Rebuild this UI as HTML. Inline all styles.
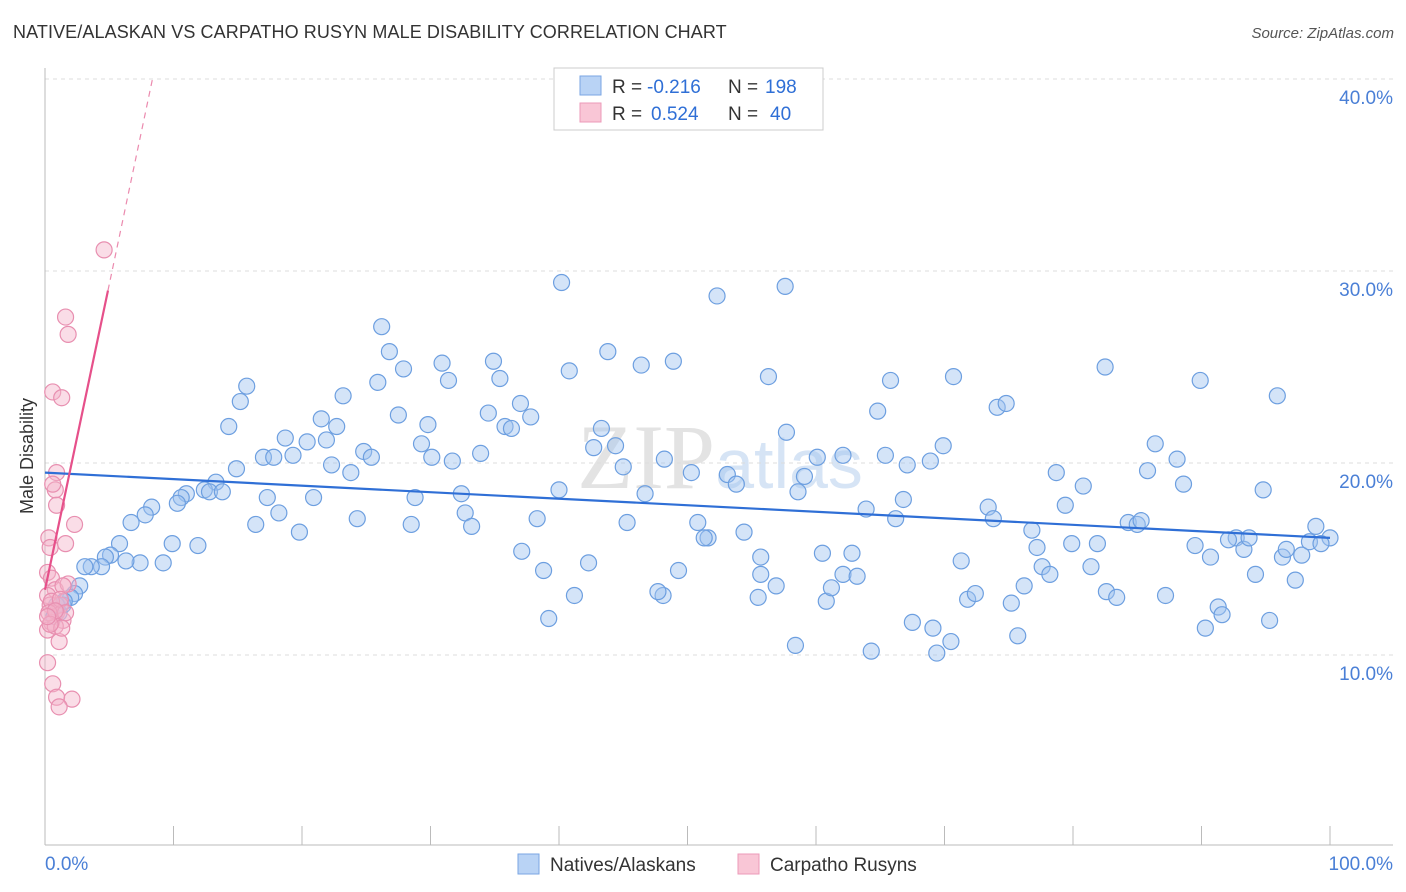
<!DOCTYPE html>
<html><head><meta charset="utf-8">
<style>
body{margin:0;background:#fff;font-family:"Liberation Sans",sans-serif;}
#wrap{position:relative;width:1406px;height:892px;overflow:hidden;}
.title{position:absolute;left:13px;top:22px;font-size:18px;color:#333;letter-spacing:0.1px;}
.source{position:absolute;right:12px;top:25px;font-size:15px;color:#555;font-style:italic;}
</style></head>
<body>
<div id="wrap">
<div class="title">NATIVE/ALASKAN VS CARPATHO RUSYN MALE DISABILITY CORRELATION CHART</div>
<div class="source">Source: ZipAtlas.com</div>
<svg id="svg" width="1406" height="892" style="position:absolute;left:0;top:0"></svg>
</div>
<script>
const blueX=[40.2,57.6,52.3,26.2,26.8,43.8,30.9,34.9,48.9,46.4,27.9,40.8,31.4,56.3,35.4,25.9,15.7,23.2,15.2,37.0,34.5,27.5,37.8,21.5,14.3,29.8,22.7,35.8,36.3,43.3,18.7,20.4,21.9,29.3,24.8,42.7,44.4,33.9,17.0,17.8,19.3,30.1,25.4,31.7,22.3,14.9,23.8,45.0,48.2,50.3,53.1,53.8,13.3,12.4,12.8,11.0,10.6,13.8,10.3,8.3,6.7,7.8,17.3,20.9,28.8,32.4,40.0,46.7,58.6,59.1,60.1,62.1,65.4,67.1,68.9,69.9,64.8,57.7,65.8,70.7,74.1,74.8,82.5,89.9,95.9,86.4,88.1,85.8,78.7,80.8,88.6,94.8,66.8,63.9,66.2,73.4,73.8,79.4,76.8,84.3,85.0,85.3,98.9,100,92.7,93.3,93.7,92.1,89.5,90.7,96.3,96.6,97.8,98.4,99.3,81.9,79.9,77.2,77.6,71.3,78.2,81.4,97.3,94.2,76.2,82.6,83.4,87.2,91.3,91.6,90.3,95.3,75.2,71.8,72.4,75.7,69.1,70.5,69.4,67.5,64.3,60.8,61.2,62.1,63.2,62.8,60.5,55.7,55.5,56.9,55.7,58.4,54.4,51.6,50.8,51.3,49.3,48.1,47.7,45.3,42.3,41.2,38.8,37.1,39.2,38.3,32.7,33.2,28.5,24.3,19.8,18.2,16.4,11.9,9.9,9.2,7.4,6.3,5.8,5.1,4.7,4.4,3.6,3.1,2.7,2.3,2.0,1.4,1.1,0.7,0.9,1.5];
const blueY=[29.4,29.2,28.7,27.1,25.8,25.8,25.2,25.3,25.3,25.1,24.9,24.8,24.3,24.5,24.4,24.2,24.0,23.5,23.2,23.1,22.6,22.5,22.4,22.3,21.9,22.0,21.9,21.9,21.8,21.8,21.3,21.1,21.2,21.0,20.6,20.8,20.9,20.5,20.3,20.3,20.4,20.3,20.3,20.1,19.9,19.7,19.5,19.8,20.2,19.5,19.4,18.9,19.0,18.6,18.5,18.4,18.2,18.5,17.9,17.7,16.9,17.3,18.2,18.2,18.2,18.4,18.6,18.4,18.5,19.3,20.3,20.4,20.4,19.9,20.1,20.9,22.7,21.6,24.3,24.5,22.9,23.1,25.0,24.3,23.5,21.0,20.2,19.6,19.5,18.8,18.9,18.6,18.1,17.6,17.1,17.7,17.1,17.8,16.5,16.9,16.8,17.0,16.7,16.1,16.1,15.5,16.1,16.0,15.7,15.1,15.1,15.5,15.2,15.9,15.8,15.8,15.8,15.6,14.6,14.9,14.2,14.6,13.9,14.2,13.6,13.3,13.0,13.1,12.5,12.1,11.4,11.8,12.7,12.9,13.2,11.0,11.4,10.7,10.1,11.7,10.2,12.8,13.5,14.2,14.1,15.3,15.3,14.2,13.0,13.6,15.1,10.5,16.4,16.1,16.9,16.1,14.4,13.1,13.3,16.9,14.8,13.1,14.4,15.4,11.9,17.1,17.4,16.7,16.8,17.1,16.4,17.4,16.8,15.7,15.8,14.8,14.8,14.9,15.8,15.2,15.1,14.6,14.6,14.6,13.6,13.2,13.0,12.6,12.2,12.0,12.6,12.8];
const pinkX=[4.6,1.6,1.8,0.6,1.3,0.9,0.8,0.6,0.9,2.3,1.6,0.3,0.4,0.2,0.5,0.8,1.8,1.4,0.2,0.4,1.2,0.9,1.4,0.5,0.2,0.8,1.1,0.2,0.6,0.9,2.1,1.1,0.5,1.2,1.6,0.3,1.3,0.8,0.4,0.2];
const pinkY=[31.1,27.6,26.7,23.7,23.4,19.5,18.6,18.9,17.8,16.8,15.8,16.1,15.6,14.3,14.0,13.4,13.7,13.6,13.1,12.6,12.6,12.2,11.8,11.7,11.3,11.5,10.7,9.6,8.5,7.8,7.7,7.3,12.8,12.9,12.2,12.2,11.4,12.3,11.6,12.0];
const blueTrend=[19.5,16.1];   // y at x=0 and x=100
const pinkTrend=[13.4,3.18];   // intercept, slope
const yTicks=[10,20,30,40];
const yTickLabels=["10.0%","20.0%","30.0%","40.0%"];

const svg=document.getElementById('svg');
const NS='http://www.w3.org/2000/svg';
const X=v=>45+v*12.85;
const Y=v=>847-v*19.2;
function mk(tag,attrs,parent){const e=document.createElementNS(NS,tag);for(const k in attrs)e.setAttribute(k,attrs[k]);(parent||svg).appendChild(e);return e;}
function txt(x,y,s,fill,parent,extra){const t=mk('text',Object.assign({x:x,y:y,'font-size':19,fill:fill},extra||{}),parent);t.textContent=s;return t;}

// watermark
let wm=mk('text',{x:720,y:488,'text-anchor':'middle','font-size':92,fill:'#e9eef5','font-family':'Liberation Serif, serif'});


wm.innerHTML='<tspan fill="#e3e3e3">ZIP</tspan><tspan font-family="Liberation Sans, sans-serif" font-size="70" fill="#d6e4f5">atlas</tspan>';

// gridlines
yTicks.forEach((t,i)=>{
  const g=mk('line',{x1:45,x2:1393,y1:Y(t),y2:Y(t),stroke:'#dcdcdc','stroke-dasharray':'4,4'});
  
  
  const l=txt(1393,Y(t)+25,yTickLabels[i],'#4a7fd6',svg,{'text-anchor':'end'});
  
  
});
// axes
let ax=mk('line',{x1:45,x2:45,y1:68,y2:845,stroke:'#bbb'});


let bx=mk('line',{x1:45,x2:1393,y1:845,y2:845,stroke:'#bbb'});


for(let i=1;i<=10;i++){
  const t=mk('line',{x1:X(i*10),x2:X(i*10),y1:826,y2:845,stroke:'#bbb'});
  
  
}
let x0=txt(45,870,'0.0%','#4a7fd6');


let x1=txt(1393,870,'100.0%','#4a7fd6',svg,{'text-anchor':'end'});


let yt=mk('text',{x:33,y:456,'text-anchor':'middle','font-size':18,fill:'#333',transform:'rotate(-90 33 456)'});yt.textContent='Male Disability';



// points
blueX.forEach((v,i)=>{
  const c=mk('circle',{cx:X(v),cy:Y(blueY[i]),r:8,fill:'rgba(160,196,240,0.45)',stroke:'#6d9fe0','stroke-width':1.2});
  
  
});
pinkX.forEach((v,i)=>{
  const c=mk('circle',{cx:X(v),cy:Y(pinkY[i]),r:8,fill:'rgba(245,180,202,0.45)',stroke:'#e88fb0','stroke-width':1.2});
  
  
});
// trends
let bt=mk('line',{x1:X(0),y1:Y(blueTrend[0]),x2:X(100),y2:Y(blueTrend[1]),stroke:'#2f6fd6','stroke-width':2.2});


const pEnd=4.9, pDash=(40-pinkTrend[0])/pinkTrend[1];
let pt=mk('line',{x1:X(0),y1:Y(pinkTrend[0]),x2:X(pEnd),y2:Y(pinkTrend[0]+pinkTrend[1]*pEnd),stroke:'#e6508a','stroke-width':2.2});


let pd=mk('line',{x1:X(pEnd),y1:Y(pinkTrend[0]+pinkTrend[1]*pEnd),x2:X(pDash),y2:Y(40),stroke:'#eb8aae','stroke-width':1.2,'stroke-dasharray':'6,5'});



// top legend
let lg=mk('g',{});


mk('rect',{x:554,y:68,width:269,height:62,fill:'#fff',stroke:'#ccc'},lg);
mk('rect',{x:580,y:76,width:21,height:19,fill:'#b9d3f5',stroke:'#7aa6e3'},lg);
mk('rect',{x:580,y:103,width:21,height:19,fill:'#f9c6d6',stroke:'#ec9ab8'},lg);
txt(612,93,'R =','#333',lg);
txt(647,93,'-0.216','#2f6fd6',lg);
txt(728,93,'N =','#333',lg);
txt(765,93,'198','#2f6fd6',lg);
txt(612,120,'R =','#333',lg);
txt(651,120,'0.524','#2f6fd6',lg);
txt(728,120,'N =','#333',lg);
txt(770,120,'40','#2f6fd6',lg);

// bottom legend
let bl=mk('g',{});


mk('rect',{x:518,y:854,width:21,height:20,fill:'#b9d3f5',stroke:'#7aa6e3'},bl);
let l1=txt(550,871,'Natives/Alaskans','#333',bl);


mk('rect',{x:738,y:854,width:21,height:20,fill:'#f9c6d6',stroke:'#ec9ab8'},bl);
let l2=txt(770,871,'Carpatho Rusyns','#333',bl);


</script>
</body></html>
